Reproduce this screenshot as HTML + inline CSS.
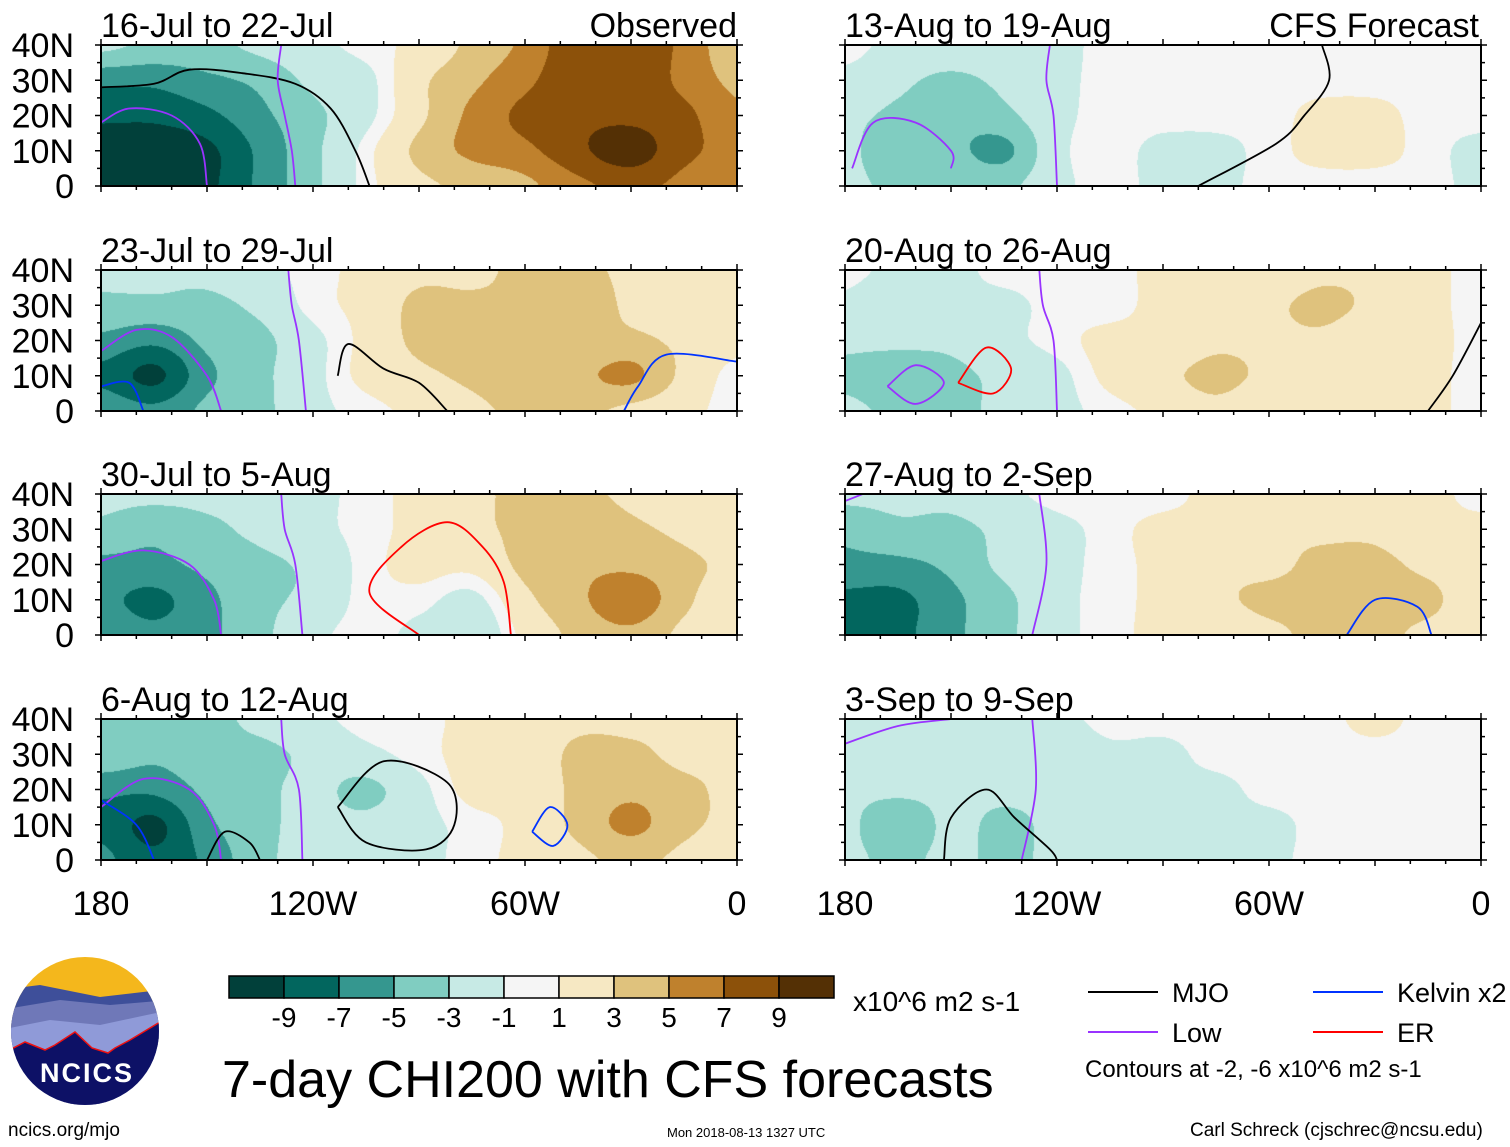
<!DOCTYPE html>
<html><head><meta charset="utf-8">
<style>
body{margin:0;background:#fff;width:1510px;height:1147px;position:relative;overflow:hidden;font-family:"Liberation Sans",sans-serif;}
.t{position:absolute;color:#000;white-space:nowrap;}
canvas{position:absolute;}
</style></head><body>
<svg id="ov" width="1510" height="1147" style="position:absolute;left:0;top:0;z-index:2"></svg>
<div class="t" style="left:8px;top:1120px;font-size:19px">ncics.org/mjo</div>
<div class="t" style="left:667px;top:1125px;font-size:13px">Mon 2018-08-13 1327 UTC</div>
<div class="t" style="left:1190px;top:1120px;font-size:19px">Carl Schreck (cjschrec@ncsu.edu)</div>
<div class="t" style="left:222px;top:1050px;font-size:52px">7-day CHI200 with CFS forecasts</div>
<div class="t" style="left:853px;top:986px;font-size:28px">x10^6 m2 s-1</div>
<div class="t" style="left:1085px;top:1056px;font-size:24px">Contours at -2, -6 x10^6 m2 s-1</div>
<script>
const levels=[-9,-7,-5,-3,-1,1,3,5,7,9];
const colors=["#01403a","#02665e","#35978f","#80cdc1","#c7eae5","#f5f5f5","#f6e8c3","#dfc27d","#bf812d","#8c510a","#543005"];
const lons=[180,165,150,135,120,105,90,75,60,45,30,15,0];
const lats=[0,10,20,30,40];
const titles=["16-Jul to 22-Jul","23-Jul to 29-Jul","30-Jul to 5-Aug","6-Aug to 12-Aug","13-Aug to 19-Aug","20-Aug to 26-Aug","27-Aug to 2-Sep","3-Sep to 9-Sep"];
const p1=[[-10,-10,-9,-6,-3,0,2,3,4,6,7,6,5],[-10,-10,-9,-6,-3,0,3,5,6,8,9.6,7,6],[-8,-8,-7,-5,-3,-1,2,5,7,8,8,7,5],[-6,-6,-5,-4,-2,-1,2,4,6,8,8,6,4],[-2,-3,-3,-2,-1,0,1,3,5,8,8,6,3]];
const p2=[[-5,-6,-4,-3,-1,0,1,2,3,3,2,1,0],[-7,-9,-5,-3,-1,1,2,3,4,4,5,2,0],[-5,-6,-4,-3,-1,1,3,4,4,3,3,2,1],[-3,-3,-3,-2,0,1,3,3,3,4,2,1,1],[-2,-2,-2,-1,0,1,2,2,3,3,2,1,1]];
const p3=[[-5,-6,-5,-3,-1,0,-1,-2,1,3,4,2,1],[-6,-7,-5,-3,-2,0,0,-1,2,4,6,3,1],[-5,-5,-4,-3,-2,0,1,1,3,4,4,3,2],[-3,-4,-3,-2,-1,0,1,2,3,4,3,2,1],[-2,-2,-2,-2,-1,0,1,2,3,3,2,1,1]];
const p4=[[-6,-8,-6,-3,-2,-2,-1,0,1,2,3,2,1],[-7,-9,-5,-3,-2,-2,-1,0,1,3,5,3,2],[-6,-6,-4,-3,-2,-3,-1,1,1,3,4,3,2],[-3,-4,-3,-3,-2,-1,0,1,1,3,3,2,2],[-3,-3,-3,-2,-1,0,0,1,1,2,2,2,1]];
const p5=[[-2,-3,-3,-3,-1,0,-1,-1,0,0,0,0,-1],[-2,-4,-4,-5,-1,0,-1,-1,0,1,1,0,-1],[-2,-3,-4,-3,-1,0,0,0,0,1,1,0,0],[-1,-2,-3,-2,-1,0,0,0,0,0,0,0,0],[0,-1,-1,-1,-1,0,0,0,0,0,0,0,0]];
const p6=[[-2,-3,-3,-2,-1,0,1,2,1,1,2,1,0],[-3,-4,-3,-2,-1,1,2,3,2,1,2,1,0],[-2,-2,-2,-1,0,1,1,2,2,2,1,1,0],[-1,-2,-1,-1,0,0,1,1,2,3,2,1,0],[0,-1,-1,0,0,0,1,1,1,2,2,1,0]];
const p7=[[-7,-7,-5,-3,-1,0,1,1,2,3,3,2,1],[-7,-7,-5,-3,-1,0,1,2,3,3,3,3,1],[-5,-5,-4,-2,-1,0,1,2,2,3,3,2,1],[-4,-3,-3,-2,-1,0,1,1,2,2,2,1,1],[-2,-2,-2,-1,0,0,0,1,1,1,1,1,0]];
const p8=[[-2,-3,-2,-3,-2,-2,-2,-2,-1,0,0,0,0],[-2,-4,-2,-3,-2,-2,-2,-1,-1,0,0,0,0],[-2,-2,-2,-2,-2,-2,-1,-1,0,0,0,0,0],[-1,-1,-2,-2,-2,-1,-1,0,0,0,0,0,0],[-1,-1,-1,-1,-1,0,0,0,0,0,1,0,0]];
const fields=[p1,p2,p3,p4,p5,p6,p7,p8];
const contours=[
 [0,"#000",[[180,28],[165,29],[155,33],[140,32],[125,29],[115,22],[108,10],[104,0]]],
 [0,"#9933ff",[[129,40],[130,30],[128,20],[126,10],[125,0]]],
 [0,"#9933ff",[[180,18],[172,22],[160,20],[152,12],[150,0]]],
 [1,"#9933ff",[[127,40],[126,30],[124,20],[122,0]]],
 [1,"#9933ff",[[180,17],[170,23],[160,21],[150,10],[146,0]]],
 [1,"#000",[[113,10],[110,19],[100,12],[90,8],[82,0]]],
 [1,"#0033ff",[[180,7],[172,8],[168,0]]],[1,"#0033ff",[[32,0],[28,7],[20,16],[0,14]]],
 [2,"#9933ff",[[129,40],[128,30],[125,20],[123,0]]],
 [2,"#9933ff",[[180,21],[168,24],[155,20],[148,10],[146,0]]],
 [2,"#ff0000",[[90,0],[104,12],[95,25],[82,32],[72,25],[66,15],[64,0]]],
 [3,"#9933ff",[[129,40],[128,30],[124,20],[123,0]]],
 [3,"#9933ff",[[180,15],[168,23],[155,20],[148,10],[146,0]]],
 [3,"#000",[[113,15],[100,28],[82,22],[80,10],[88,3],[105,5],[113,15]]],
 [3,"#000",[[150,0],[145,8],[138,5],[135,0]]],
 [3,"#0033ff",[[180,17],[170,10],[165,0]]],[3,"#0033ff",[[58,8],[53,15],[48,10],[52,4],[58,8]]],
 [4,"#9933ff",[[122,40],[123,30],[121,20],[120,0]]],
 [4,"#9933ff",[[178,5],[172,18],[160,18],[150,10],[150,5]]],
 [4,"#000",[[45,40],[43,30],[50,20],[58,12],[80,0]]],
 [5,"#9933ff",[[125,40],[124,30],[121,20],[120,0]]],
 [5,"#9933ff",[[168,7],[160,13],[152,8],[160,2],[168,7]]],
 [5,"#ff0000",[[148,8],[140,18],[133,12],[138,5],[148,8]]],
 [5,"#000",[[15,0],[8,10],[0,25]]],
 [6,"#9933ff",[[180,38],[175,40]]],[6,"#9933ff",[[125,40],[123,20],[127,0]]],
 [6,"#0033ff",[[38,0],[30,10],[18,8],[14,0]]],
 [7,"#9933ff",[[180,33],[165,38],[150,40]]],[7,"#9933ff",[[127,40],[126,20],[130,0]]],
 [7,"#000",[[152,0],[150,12],[140,20],[132,12],[122,3],[120,0]]]
];
const PW=636,PH=141;
const colX=[101,845],rowY=[45,270,494,719];
function sx(c,lon){return colX[c]+(180-lon)/180*PW;}
function sy(r,lat){return rowY[r]+(40-lat)/40*PH;}
function cr(p0,p1,p2,p3,t){return 0.5*((2*p1)+(-p0+p2)*t+(2*p0-5*p1+4*p2-p3)*t*t+(-p0+3*p1-3*p2+p3)*t*t*t);}
function sample(g,fx,fy){
 const nx=g[0].length,ny=g.length;
 const ix=Math.min(Math.floor(fx),nx-2),iy=Math.min(Math.floor(fy),ny-2);
 const tx=fx-ix,ty=fy-iy;
 const G=(y,x)=>g[Math.max(0,Math.min(ny-1,y))][Math.max(0,Math.min(nx-1,x))];
 const rows=[];
 for(let j=-1;j<=2;j++)rows.push(cr(G(iy+j,ix-1),G(iy+j,ix),G(iy+j,ix+1),G(iy+j,ix+2),tx));
 return cr(rows[0],rows[1],rows[2],rows[3],ty);
}
const thr=levels.map(l=>l-0.5*Math.sign(l));
function hex(h){return [parseInt(h.substr(1,2),16),parseInt(h.substr(3,2),16),parseInt(h.substr(5,2),16)];}
const rgb=colors.map(hex);
const NS="http://www.w3.org/2000/svg";
const ov=document.getElementById('ov');
function st(tag,attrs,parent){const e=document.createElementNS(NS,tag);for(const k in attrs)e.setAttribute(k,attrs[k]);(parent||ov).appendChild(e);return e;}
fields.forEach((g,i)=>{
 const c=i<4?0:1,r=i%4;
 const cv=document.createElement('canvas');
 cv.width=PW;cv.height=PH;cv.style.left=colX[c]+'px';cv.style.top=rowY[r]+'px';
 
 
 document.body.appendChild(cv);
 const ctx=cv.getContext('2d');const im=ctx.createImageData(PW,PH);
 for(let y=0;y<PH;y++){const fy=(1-y/(PH-1))*(lats.length-1);
  for(let x=0;x<PW;x++){const fx=x/(PW-1)*(lons.length-1);
   const v=sample(g,fx,fy);let k=0;while(k<thr.length&&v>thr[k])k++;
   const o=(y*PW+x)*4,cc=rgb[k];im.data[o]=cc[0];im.data[o+1]=cc[1];im.data[o+2]=cc[2];im.data[o+3]=255;}}
 ctx.putImageData(im,0,0);
});
function smoothPath(P){
 let d='M'+P[0][0].toFixed(1)+','+P[0][1].toFixed(1);
 for(let i=0;i<P.length-1;i++){
  const p0=P[Math.max(0,i-1)],p1=P[i],p2=P[i+1],p3=P[Math.min(P.length-1,i+2)];
  const c1=[p1[0]+(p2[0]-p0[0])/6,p1[1]+(p2[1]-p0[1])/6],c2=[p2[0]-(p3[0]-p1[0])/6,p2[1]-(p3[1]-p1[1])/6];
  d+='C'+c1[0].toFixed(1)+','+c1[1].toFixed(1)+' '+c2[0].toFixed(1)+','+c2[1].toFixed(1)+' '+p2[0].toFixed(1)+','+p2[1].toFixed(1);
 }
 return d;
}
contours.forEach(([pi,col,pts])=>{
 const c=pi<4?0:1,r=pi%4;
 const P=pts.map(p=>[sx(c,p[0]),sy(r,p[1])]);
 const e=st('path',{d:smoothPath(P),fill:'none',stroke:col,'stroke-width':1.8,'stroke-linejoin':'round'});
 
 
});
const ylab=['0','10N','20N','30N','40N'];
const xlab=[[180,'180'],[120,'120W'],[60,'60W'],[0,'0']];
for(let i=0;i<8;i++){
 const c=i<4?0:1,r=i%4,x0=colX[c],y0=rowY[r];
 const f=st('rect',{x:x0,y:y0,width:PW,height:PH,fill:'none',stroke:'#000','stroke-width':2});
 
 
 for(let lon=180;lon>=0;lon-=10){const x=sx(c,lon),L=lon%30==0?6:4;
  st('line',{x1:x,x2:x,y1:y0-L,y2:y0,stroke:'#000','stroke-width':1.5});
  st('line',{x1:x,x2:x,y1:y0+PH,y2:y0+PH+L,stroke:'#000','stroke-width':1.5});}
 for(let lat=0;lat<=40;lat+=5){const y=sy(r,lat),L=lat%10==0?6:4;
  st('line',{x1:x0-L,x2:x0,y1:y,y2:y,stroke:'#000','stroke-width':1.5});
  st('line',{x1:x0+PW,x2:x0+PW+L,y1:y,y2:y,stroke:'#000','stroke-width':1.5});}
 const t=st('text',{x:x0,y:y0-8,'font-size':34,'font-family':'Liberation Sans'});t.textContent=titles[i];
 
 
 if(c==0){lats.forEach((lat,j)=>{const e=st('text',{x:74,y:sy(r,lat)+12,'font-size':34,'text-anchor':'end','font-family':'Liberation Sans'});e.textContent=ylab[j];
  
  });}
 if(r==3){xlab.forEach(([lon,s])=>{const e=st('text',{x:sx(c,lon),y:915,'font-size':34,'text-anchor':'middle','font-family':'Liberation Sans'});e.textContent=s;
  
  });}
}
let e=st('text',{x:737,y:37,'font-size':34,'text-anchor':'end','font-family':'Liberation Sans'});e.textContent='Observed';

e=st('text',{x:1479,y:37,'font-size':34,'text-anchor':'end','font-family':'Liberation Sans'});e.textContent='CFS Forecast';

colors.forEach((col,k)=>{const b=st('rect',{x:229+k*55,y:976,width:55,height:22,fill:col,stroke:'#000','stroke-width':1.5});
 
 });
levels.forEach((v,k)=>{const t=st('text',{x:284+k*55,y:1027,'font-size':28,'text-anchor':'middle','font-family':'Liberation Sans'});t.textContent=v;
 
 });
const leg=[[1088,992,'#000','MJO'],[1313,992,'#0033ff','Kelvin x2'],[1088,1032,'#9933ff','Low'],[1313,1032,'#ff0000','ER']];
leg.forEach(([x,y,col,s])=>{st('line',{x1:x,x2:x+70,y1:y,y2:y,stroke:col,'stroke-width':2});
 const t=st('text',{x:x+84,y:y+10,'font-size':27,'font-family':'Liberation Sans'});t.textContent=s;
 
 });
const lg=st('g',{});
st('defs',{},lg).innerHTML='<clipPath id="cc"><circle cx="85" cy="1031" r="74"/></clipPath>';
const cl=st('g',{'clip-path':'url(#cc)'},lg);
st('rect',{x:0,y:950,width:170,height:170,fill:'#f4b71c'},cl);
st('path',{d:'M0,990 L40,985 L100,997 L160,990 L170,1010 L170,1150 L0,1150Z',fill:'#3e4f9a'},cl);
st('path',{d:'M0,1010 L60,1000 L110,1005 L170,1000 L170,1150 L0,1150Z',fill:'#6f78b8'},cl);
st('path',{d:'M0,1030 L50,1020 L100,1025 L170,1010 L170,1150 L0,1150Z',fill:'#8f9ad8'},cl);
st('path',{d:'M0,1055 L25,1042 L45,1050 L55,1045 L75,1032 L92,1048 L108,1053 L115,1048 L130,1040 L160,1022 L170,1015 L170,1150 L0,1150Z',fill:'#0d1166',stroke:'#e11','stroke-width':1.5},cl);
const nt=st('text',{x:87,y:1082,'font-size':27,'font-weight':'bold','text-anchor':'middle',fill:'#fff','font-family':'Liberation Sans','letter-spacing':2},lg);nt.textContent='NCICS';
</script>
</body></html>
